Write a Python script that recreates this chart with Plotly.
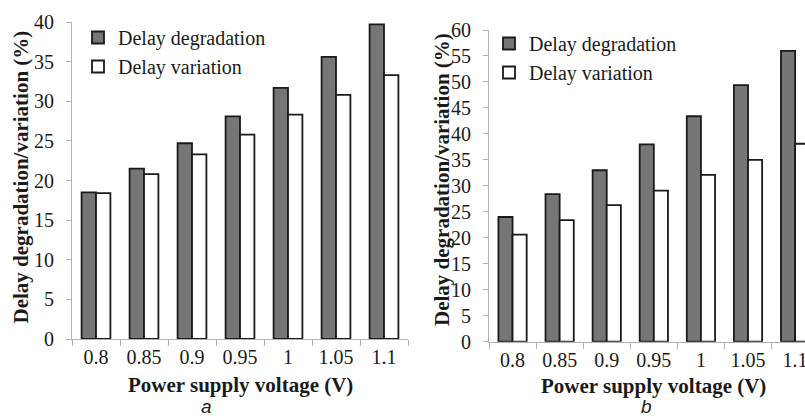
import plotly.graph_objects as go

voltages = ["0.8", "0.85", "0.9", "0.95", "1", "1.05", "1.1"]
a_degradation = [18.5, 21.5, 24.7, 28.1, 31.7, 35.6, 39.7]
a_variation = [18.4, 20.8, 23.3, 25.8, 28.3, 30.8, 33.3]
b_degradation = [24.0, 28.4, 33.0, 38.0, 43.4, 49.4, 56.0]
b_variation = [20.6, 23.4, 26.3, 29.1, 32.1, 35.0, 38.1]

W, H = 805, 416
SERIF = "Liberation Serif"
TXT = "#1a1a1a"
AX = "#b0b0b0"
GRAY = "#767676"
EDGE = "#1a1a1a"

fig = go.Figure()

def add_pair(deg, var, xa, ya, leg):
    fig.add_trace(go.Bar(x=voltages, y=deg, name="Delay degradation", xaxis=xa, yaxis=ya,
                         marker=dict(color=GRAY, line=dict(color=EDGE, width=1.8)), legend=leg))
    fig.add_trace(go.Bar(x=voltages, y=var, name="Delay variation", xaxis=xa, yaxis=ya,
                         marker=dict(color="white", line=dict(color=EDGE, width=1.8)), legend=leg))

add_pair(a_degradation, a_variation, "x", "y", "legend")
add_pair(b_degradation, b_variation, "x2", "y2", "legend2")

def px_x(p):
    return p / W

def px_y(p):
    return 1 - p / H

tickfont = dict(family=SERIF, size=20, color=TXT)
xcommon = dict(type="category", showline=True, linecolor=AX, linewidth=1, ticks="outside",
               tickson="boundaries", ticklen=6, tickcolor=AX, tickfont=tickfont,
               showgrid=False, zeroline=False, fixedrange=True, automargin=False)
ycommon = dict(showline=True, linecolor=AX, linewidth=1, ticks="outside", ticklen=5,
               tickcolor=AX, tickfont=tickfont, showgrid=False, zeroline=False, dtick=5,
               ticklabelstandoff=8, automargin=False)

legcommon = dict(font=dict(family=SERIF, size=20, color=TXT), bgcolor="rgba(0,0,0,0)",
                 xanchor="left", yanchor="top", tracegroupgap=0)

fig.update_layout(
    width=W, height=H, autosize=False,
    margin=dict(l=0, r=0, t=0, b=0, pad=0, autoexpand=False),
    font=dict(family=SERIF, color=TXT),
    paper_bgcolor="white", plot_bgcolor="white",
    barmode="group", bargap=0.4, bargroupgap=0,
    xaxis=dict(domain=[px_x(72), px_x(408)], anchor="y", range=[-0.5, 6.5], **xcommon),
    yaxis=dict(domain=[px_y(339), px_y(22)], anchor="x", range=[0, 40], **ycommon),
    xaxis2=dict(domain=[px_x(489), 1], anchor="y2", range=[-0.5, 6.21], **xcommon),
    yaxis2=dict(domain=[px_y(341.7), px_y(30)], anchor="x2", range=[0, 60], **ycommon),
    legend=dict(x=px_x(78), y=px_y(18), **legcommon),
    legend2=dict(x=px_x(489), y=px_y(24), **legcommon),
    showlegend=True,
)

title_font = dict(family=SERIF, size=21, color=TXT, weight="bold")
ann = [
    dict(text="Delay degradation/variation (%)", x=px_x(20.5), y=px_y(177), textangle=-90, font=title_font),
    dict(text="Delay degradation/variation (%)", x=px_x(442), y=px_y(180), textangle=-90, font=title_font),
    dict(text="Power supply voltage (V)", x=px_x(240), y=px_y(385), font=title_font),
    dict(text="Power supply voltage (V)", x=px_x(653), y=px_y(386), font=title_font),
    dict(text="a", x=px_x(207), y=px_y(406), font=dict(family="Liberation Sans", size=19, color=TXT, style="italic")),
    dict(text="b", x=px_x(646), y=px_y(406), font=dict(family="Liberation Sans", size=19, color=TXT, style="italic")),
]
for a in ann:
    fig.add_annotation(xref="paper", yref="paper", showarrow=False, xanchor="center", yanchor="middle", **a)

fig.write_html("out.html")
